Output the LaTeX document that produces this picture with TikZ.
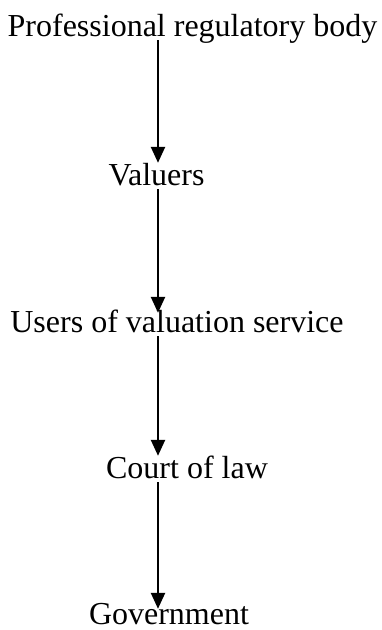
\documentclass[tikz,border=0pt]{standalone}
\usepackage{fontspec}
\setmainfont{Liberation Serif}
\usetikzlibrary{arrows.meta}
\begin{document}
\begin{tikzpicture}[x=1pt,y=-1pt,
  label text/.style={anchor=base,inner sep=0pt,text height=22pt,text depth=4pt,
    font=\fontsize{32}{38}\selectfont},
  flow/.style={line width=2.4pt,-{Triangle[length=16pt,width=14pt]}}]
  \useasboundingbox (0,0) rectangle (382,630);
  % arrow column
  \coordinate (col) at (158,0);
  \node[label text] (body) at (192.5,36) {Professional regulatory body};
  \node[label text] (valuers) at (156.5,185) {Valuers};
  \node[label text] (users) at (177,332) {Users of valuation service};
  \node[label text] (court) at (187,478) {Court of law};
  \node[label text,text depth=2pt] (gov) at (169,624) {Government};
  \draw[flow] (body.south -| col) -- (valuers.north -| col);
  \draw[flow,shorten >=-3pt] (valuers.south -| col) -- (users.north -| col);
  \draw[flow] (users.south -| col) -- (court.north -| col);
  \draw[flow,shorten >=-7pt] (court.south -| col) -- (gov.north -| col);
\end{tikzpicture}
\end{document}
